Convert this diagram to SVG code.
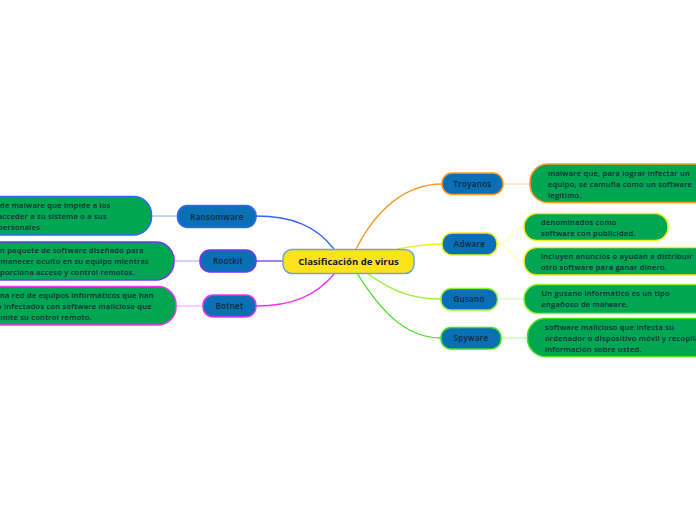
<svg xmlns="http://www.w3.org/2000/svg" width="696" height="520" viewBox="0 0 696 520">
<style>
.node{fill:#0a6fb5;stroke-width:1.5}
.leaf{fill:#00a651;stroke-width:1.5}
.lbl{font-family:"Open Sans","Noto Sans",sans-serif;font-weight:600;font-size:8px;fill:#102a3a;text-anchor:middle;letter-spacing:0.3px}
.txt{font-family:"Open Sans","Noto Sans",sans-serif;font-weight:600;font-size:7.6px;fill:#102a3a;letter-spacing:0.2px}
.c{fill:none;stroke-width:1.3}
.cl{fill:none;stroke-width:1}
</style>
<rect width="696" height="520" fill="#ffffff"/>
<g id="connectors">
<path class="c" d="M334,249 C316,226 292,216 256,216" stroke="#3366ff"/>
<path class="c" d="M283,261 L256,261" stroke="#7733ee"/>
<path class="c" d="M335,273 C316,296 292,306 256,306" stroke="#ee33ee"/>
<path class="c" d="M356,249 C376,210 405,184 442,184" stroke="#ff9922"/>
<path class="c" d="M397,249 C415,246 425,244 442,244" stroke="#eeee22"/>
<path class="c" d="M367,273 C390,290 410,299 441,299" stroke="#99ee33"/>
<path class="c" d="M357,273 C380,310 405,338 441,338" stroke="#44dd22"/>
<path class="cl" d="M152,216 L177,216" stroke="#88aaff"/>
<path class="cl" d="M174,261 L200,261" stroke="#bb99ff"/>
<path class="cl" d="M176,306 L203,306" stroke="#ff99ff"/>
<path class="cl" d="M503,184 L530,184" stroke="#ffcc99"/>
<path class="cl" d="M497,244 C511,244 510,227 524,227" stroke="#ffff88"/>
<path class="cl" d="M497,244 C511,244 510,261 524,261" stroke="#ffff88"/>
<path class="cl" d="M497,299 L524,299" stroke="#ccff99"/>
<path class="cl" d="M501,338 L527,338" stroke="#aaff99"/>
</g>
<g id="central">
<rect x="283" y="249.5" width="131" height="24" rx="9" fill="#ffe31a" stroke="#6ba6d6" stroke-width="1.5"/>
<text x="348.5" y="265" style="font-family:'Open Sans','Noto Sans',sans-serif;font-weight:700;font-size:9.6px;fill:#102030;text-anchor:middle">Clasificación de virus</text>
</g>
<g id="ransomware">
<rect class="node" x="177.5" y="205.5" width="78.5" height="22" rx="10" stroke="#3366ff"/>
<text class="lbl" x="217" y="219.5">Ransomware</text>
</g>
<g id="ransomware-leaf">
<rect class="leaf" x="-30" y="196.5" width="181.5" height="38.5" rx="18" stroke="#3366ff"/>
<text class="txt" x="0" y="208">de malware que impide a los</text>
<text class="txt" x="-2" y="219">acceder a su sistema o a sus</text>
<text class="txt" x="-2" y="230">personales</text>
</g>
<g id="rootkit">
<rect class="node" x="200" y="250" width="56" height="22" rx="10" stroke="#7733ee"/>
<text class="lbl" x="228" y="264">Rootkit</text>
</g>
<g id="rootkit-leaf">
<rect class="leaf" x="-30" y="242" width="204" height="38" rx="18" stroke="#7733ee"/>
<text class="txt" x="0" y="253">n paquete de software diseñado para</text>
<text class="txt" x="0.5" y="264">manecer oculto en su equipo mientras</text>
<text class="txt" x="0" y="275">porciona acceso y control remotos.</text>
</g>
<g id="botnet">
<rect class="node" x="203" y="295" width="53" height="22" rx="10" stroke="#ee33ee"/>
<text class="lbl" x="229.5" y="309">Botnet</text>
</g>
<g id="botnet-leaf">
<rect class="leaf" x="-30" y="286.5" width="206" height="38.5" rx="18" stroke="#ee33ee"/>
<text class="txt" x="0" y="298">na red de equipos informáticos que han</text>
<text class="txt" x="-3" y="309">o infectados con software malicioso que</text>
<text class="txt" x="0.5" y="320">mite su control remoto.</text>
</g>
<g id="troyanos">
<rect class="node" x="442" y="173" width="61" height="21.5" rx="10" stroke="#ff9922"/>
<text class="lbl" x="472.5" y="187">Troyanos</text>
</g>
<g id="troyanos-leaf">
<rect class="leaf" x="530" y="164" width="200" height="38.5" rx="18" stroke="#ff9922"/>
<text class="txt" x="548" y="176">malware que, para lograr infectar un</text>
<text class="txt" x="548" y="187">equipo, se camufla como un software</text>
<text class="txt" x="548" y="198">legítimo.</text>
</g>
<g id="adware">
<rect class="node" x="442" y="233" width="55" height="22" rx="10" stroke="#eeee22"/>
<text class="lbl" x="469.5" y="247">Adware</text>
</g>
<g id="adware-leaf1">
<rect class="leaf" x="524" y="213.5" width="144" height="27" rx="13" stroke="#eeee22"/>
<text class="txt" x="541" y="224.5">denominados como</text>
<text class="txt" x="541" y="235.5">software con publicidad.</text>
</g>
<g id="adware-leaf2">
<rect class="leaf" x="524" y="247.5" width="200" height="27.5" rx="13" stroke="#eeee22"/>
<text class="txt" x="541" y="259">incluyen anuncios o ayudan a distribuir</text>
<text class="txt" x="541" y="270">otro software para ganar dinero.</text>
</g>
<g id="gusano">
<rect class="node" x="441" y="288.5" width="56.5" height="21.5" rx="10" stroke="#99ee33"/>
<text class="lbl" x="469" y="302">Gusano</text>
</g>
<g id="gusano-leaf">
<rect class="leaf" x="524" y="284.5" width="200" height="29" rx="14" stroke="#99ee33"/>
<text class="txt" x="541.5" y="296">Un gusano informático es un tipo</text>
<text class="txt" x="541.5" y="307">engañoso de malware.</text>
</g>
<g id="spyware">
<rect class="node" x="441" y="327.5" width="60" height="21.5" rx="10" stroke="#44dd22"/>
<text class="lbl" x="471" y="341">Spyware</text>
</g>
<g id="spyware-leaf">
<rect class="leaf" x="527.5" y="318.5" width="200" height="38" rx="18" stroke="#44dd22"/>
<text class="txt" x="545" y="330">software malicioso que infecta su</text>
<text class="txt" x="545" y="341">ordenador o dispositivo móvil y recopila</text>
<text class="txt" x="545" y="352">información sobre usted.</text>
</g>
</svg>
